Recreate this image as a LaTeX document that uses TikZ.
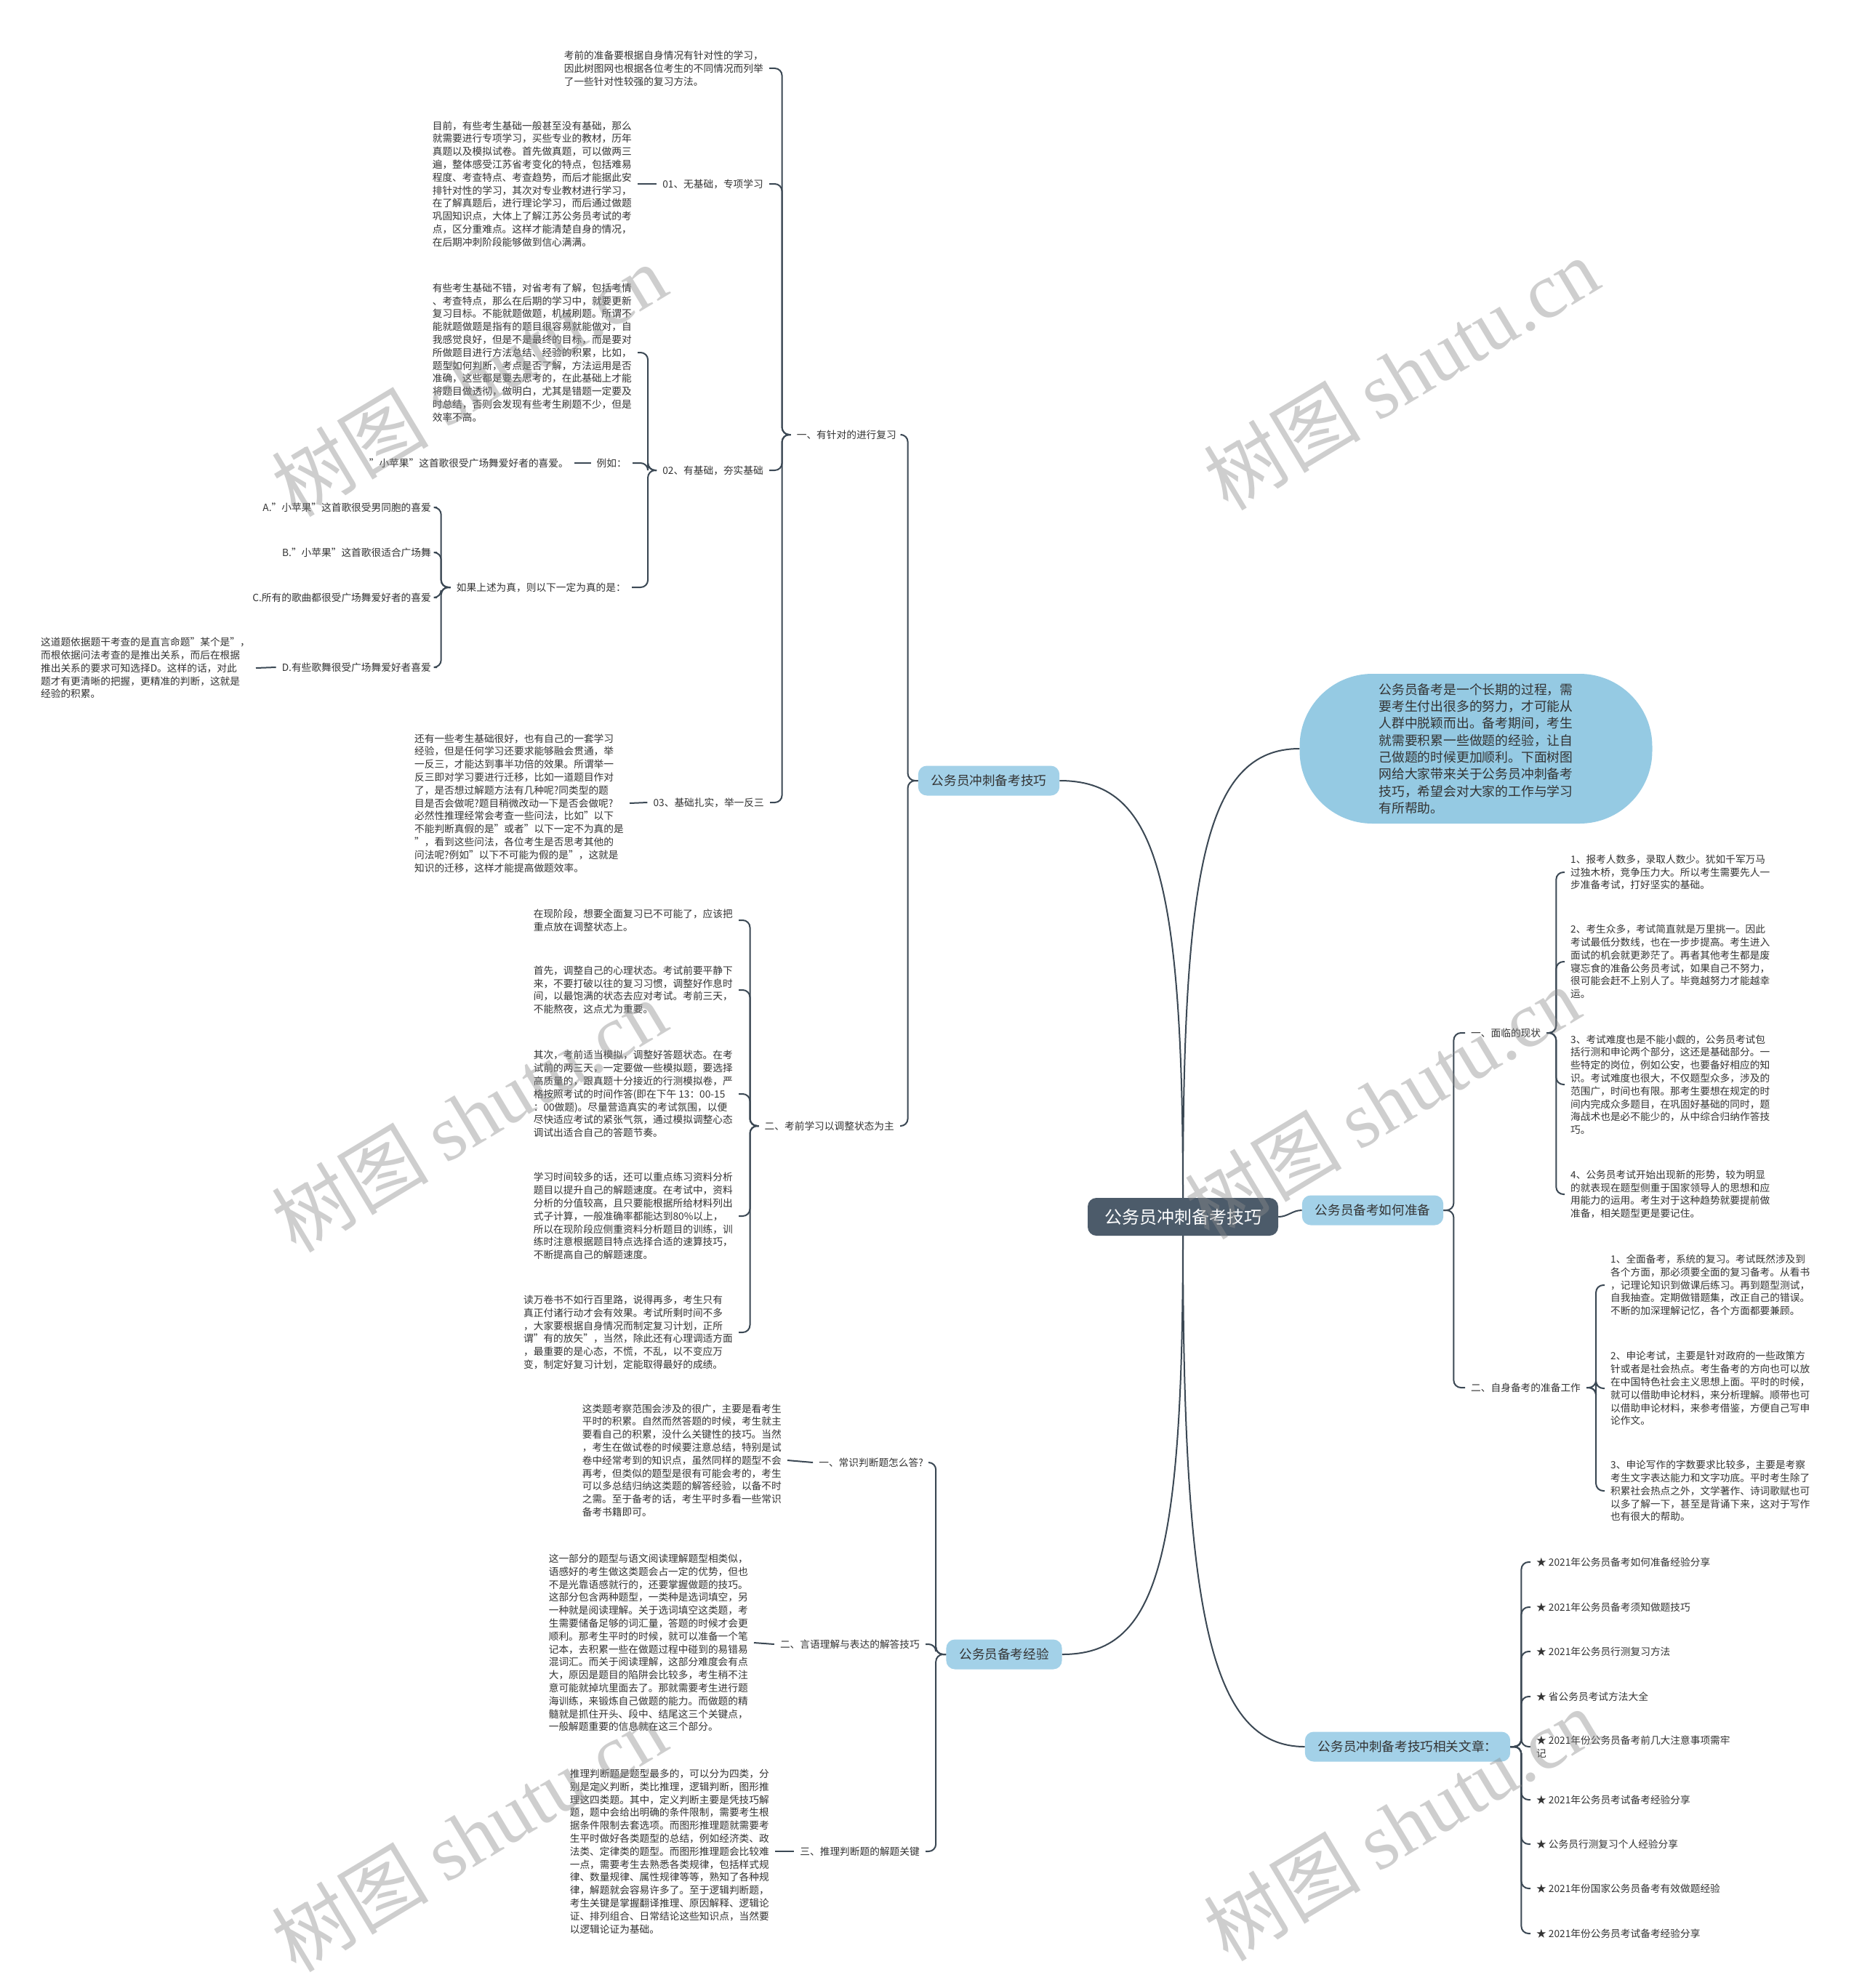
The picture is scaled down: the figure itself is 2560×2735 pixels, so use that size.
\documentclass[tikz,border=0pt]{standalone}
\usepackage{fontspec}
\setmainfont{Noto Sans CJK SC}
\newfontfamily\wmlatin{Liberation Serif}
\usepackage{tikz}
\definecolor{linecol}{RGB}{59,72,84}
\definecolor{rootcol}{RGB}{76,91,106}
\definecolor{topiccol}{RGB}{163,209,232}
\definecolor{introcol}{RGB}{149,202,227}
\definecolor{txtcol}{RGB}{51,51,51}

\begin{document}
\begin{tikzpicture}[x=1pt, y=-1pt,
        root/.style={rectangle, rounded corners=12pt, fill=rootcol, text=white, font=\fontsize{24}{28}\selectfont, minimum height=52pt, inner xsep=23pt},
        topic/.style={rectangle, rounded corners=12pt, fill=topiccol, text=txtcol, font=\fontsize{17.6}{21}\selectfont, minimum height=41pt, inner xsep=18pt},
        intro/.style={rectangle, rounded corners=100pt, fill=introcol, text=txtcol, font=\fontsize{17.8}{23.3}\selectfont, align=left, minimum width=485pt, minimum height=206pt},
        label/.style={text=txtcol, font=\fontsize{13.7}{17.8}\selectfont, inner xsep=8pt, inner ysep=1pt, align=left},
        llabel/.style={label, anchor=east},
        rlabel/.style={label, anchor=west},
        link/.style={draw=linecol, line width=2pt, rounded corners=10pt},
        wmark/.style={rotate=31, text=black!45, opacity=0.42, font=\fontsize{108}{112}\selectfont}
    ]
        \useasboundingbox (0,0) rectangle (2560,2735);
        \fill[white] (0,0) rectangle (2560,2735);

        \node[root] (root) at (1627,1674) {公务员冲刺备考技巧};
        \node[intro] (intro) at (2030,1030) {公务员备考是一个长期的过程，需\\要考生付出很多的努力，才可能从\\人群中脱颖而出。备考期间，考生\\就需要积累一些做题的经验，让自\\己做题的时候更加顺利。下面树图\\网给大家带来关于公务员冲刺备考\\技巧，希望会对大家的工作与学习\\有所帮助。};
        \node[topic] (tips) at (1360,1074) {公务员冲刺备考技巧};
        \node[topic] (prep) at (1888,1665) {公务员备考如何准备};
        \node[topic] (exp) at (1381,2276) {公务员备考经验};
        \node[topic] (rel) at (1936,2403) {公务员冲刺备考技巧相关文章：};

        \node[llabel] (n1) at (1241,598) {一、有针对的进行复习};
        \node[llabel] (p0) at (1058,94) {考前的准备要根据自身情况有针对性的学习，\\因此树图网也根据各位考生的不同情况而列举\\了一些针对性较强的复习方法。};
        \node[llabel] (l01) at (1058,253) {01、无基础，专项学习};
        \node[llabel] (p01) at (877,253) {目前，有些考生基础一般甚至没有基础，那么\\就需要进行专项学习，买些专业的教材，历年\\真题以及模拟试卷。首先做真题，可以做两三\\遍，整体感受江苏省考变化的特点，包括难易\\程度、考查特点、考查趋势，而后才能据此安\\排针对性的学习，其次对专业教材进行学习，\\在了解真题后，进行理论学习，而后通过做题\\巩固知识点，大体上了解江苏公务员考试的考\\点，区分重难点。这样才能清楚自身的情况，\\在后期冲刺阶段能够做到信心满满。};
        \node[llabel] (l02) at (1058,647) {02、有基础，夯实基础};
        \node[llabel] (p02) at (877,485) {有些考生基础不错，对省考有了解，包括考情\\、考查特点，那么在后期的学习中，就要更新\\复习目标。不能就题做题，机械刷题。所谓不\\能就题做题是指有的题目很容易就能做对，自\\我感觉良好，但是不是最终的目标，而是要对\\所做题目进行方法总结、经验的积累，比如，\\题型如何判断，考点是否了解，方法运用是否\\准确，这些都是要去思考的，在此基础上才能\\将题目做透彻，做明白，尤其是错题一定要及\\时总结，否则会发现有些考生刷题不少，但是\\效率不高。};
        \node[llabel] (eg) at (870,637) {例如：};
        \node[llabel] (egt) at (790,637) {"小苹果"这首歌很受广场舞爱好者的喜爱。};
        \node[llabel] (q) at (869,808) {如果上述为真，则以下一定为真的是：};
        \node[llabel] (optA) at (601,698) {A."小苹果"这首歌很受男同胞的喜爱};
        \node[llabel] (optB) at (601,760) {B."小苹果"这首歌很适合广场舞};
        \node[llabel] (optC) at (601,822) {C.所有的歌曲都很受广场舞爱好者的喜爱};
        \node[llabel] (optD) at (601,918) {D.有些歌舞很受广场舞爱好者喜爱};
        \node[llabel] (pD) at (352,919) {这道题依据题干考查的是直言命题"某个是"，\\而根依据问法考查的是推出关系，而后在根据\\推出关系的要求可知选择D。这样的话，对此\\题才有更清晰的把握，更精准的判断，这就是\\经验的积累。};
        \node[llabel] (l03) at (1059,1104) {03、基础扎实，举一反三};
        \node[llabel] (p03) at (866,1105) {还有一些考生基础很好，也有自己的一套学习\\经验，但是任何学习还要求能够融会贯通，举\\一反三，才能达到事半功倍的效果。所谓举一\\反三即对学习要进行迁移，比如一道题目作对\\了，是否想过解题方法有几种呢?同类型的题\\目是否会做呢?题目稍微改动一下是否会做呢?\\必然性推理经常会考查一些问法，比如"以下\\不能判断真假的是"或者"以下一定不为真的是\\"，看到这些问法，各位考生是否思考其他的\\问法呢?例如"以下不可能为假的是"，这就是\\知识的迁移，这样才能提高做题效率。};

        \node[llabel] (n2) at (1238,1549) {二、考前学习以调整状态为主};
        \node[llabel] (pa) at (1016,1266) {在现阶段，想要全面复习已不可能了，应该把\\重点放在调整状态上。};
        \node[llabel] (pb) at (1016,1362) {首先，调整自己的心理状态。考试前要平静下\\来，不要打破以往的复习习惯，调整好作息时\\间，以最饱满的状态去应对考试。考前三天，\\不能熬夜，这点尤为重要。};
        \node[llabel] (pc) at (1016,1505) {其次，考前适当模拟，调整好答题状态。在考\\试前的两三天，一定要做一些模拟题，要选择\\高质量的，跟真题十分接近的行测模拟卷，严\\格按照考试的时间作答(即在下午 13：00-15\\：00做题)。尽量营造真实的考试氛围，以便\\尽快适应考试的紧张气氛，通过模拟调整心态\\调试出适合自己的答题节奏。};
        \node[llabel] (pd) at (1016,1673) {学习时间较多的话，还可以重点练习资料分析\\题目以提升自己的解题速度。在考试中，资料\\分析的分值较高，且只要能根据所给材料列出\\式子计算，一般准确率都能达到80\%以上，\\所以在现阶段应侧重资料分析题目的训练，训\\练时注意根据题目特点选择合适的速算技巧，\\不断提高自己的解题速度。};
        \node[llabel] (pe) at (1016,1833) {读万卷书不如行百里路，说得再多，考生只有\\真正付诸行动才会有效果。考试所剩时间不多\\，大家要根据自身情况而制定复习计划，正所\\谓"有的放矢"，当然，除此还有心理调适方面\\，最重要的是心态，不慌，不乱，以不变应万\\变，制定好复习计划，定能取得最好的成绩。};

        \node[llabel] (m1) at (1278,2012) {一、常识判断题怎么答?};
        \node[llabel] (pm1) at (1083,2009) {这类题考察范围会涉及的很广，主要是看考生\\平时的积累。自然而然答题的时候，考生就主\\要看自己的积累，没什么关键性的技巧。当然\\，考生在做试卷的时候要注意总结，特别是试\\卷中经常考到的知识点，虽然同样的题型不会\\再考，但类似的题型是很有可能会考的，考生\\可以多总结归纳这类题的解答经验，以备不时\\之需。至于备考的话，考生平时多看一些常识\\备考书籍即可。};
        \node[llabel] (m2) at (1273,2262) {二、言语理解与表达的解答技巧};
        \node[llabel] (pm2) at (1037,2260) {这一部分的题型与语文阅读理解题型相类似，\\语感好的考生做这类题会占一定的优势，但也\\不是光靠语感就行的，还要掌握做题的技巧。\\这部分包含两种题型，一类种是选词填空，另\\一种就是阅读理解。关于选词填空这类题，考\\生需要储备足够的词汇量，答题的时候才会更\\顺利。那考生平时的时候，就可以准备一个笔\\记本，去积累一些在做题过程中碰到的易错易\\混词汇。而关于阅读理解，这部分难度会有点\\大，原因是题目的陷阱会比较多，考生稍不注\\意可能就掉坑里面去了。那就需要考生进行题\\海训练，来锻炼自己做题的能力。而做题的精\\髓就是抓住开头、段中、结尾这三个关键点，\\一般解题重要的信息就在这三个部分。};
        \node[llabel] (m3) at (1273,2547) {三、推理判断题的解题关键};
        \node[llabel] (pm3) at (1066,2547) {推理判断题是题型最多的，可以分为四类，分\\别是定义判断，类比推理，逻辑判断，图形推\\理这四类题。其中，定义判断主要是凭技巧解\\题，题中会给出明确的条件限制，需要考生根\\据条件限制去套选项。而图形推理题就需要考\\生平时做好各类题型的总结，例如经济类、政\\法类、定律类的题型。而图形推理题会比较难\\一点，需要考生去熟悉各类规律，包括样式规\\律、数量规律、属性规律等等，熟知了各种规\\律，解题就会容易许多了。至于逻辑判断题，\\考生关键是掌握翻译推理、原因解释、逻辑论\\证、排列组合、日常结论这些知识点，当然要\\以逻辑论证为基础。};

        \node[rlabel] (r1) at (2015,1421) {一、面临的现状};
        \node[rlabel] (i1) at (2152,1200) {1、报考人数多，录取人数少。犹如千军万马\\过独木桥，竞争压力大。所以考生需要先人一\\步准备考试，打好坚实的基础。};
        \node[rlabel] (i2) at (2152,1323) {2、考生众多，考试简直就是万里挑一。因此\\考试最低分数线，也在一步步提高。考生进入\\面试的机会就更渺茫了。再者其他考生都是废\\寝忘食的准备公务员考试，如果自己不努力，\\很可能会赶不上别人了。毕竟越努力才能越幸\\运。};
        \node[rlabel] (i3) at (2152,1492) {3、考试难度也是不能小觑的，公务员考试包\\括行测和申论两个部分，这还是基础部分。一\\些特定的岗位，例如公安，也要备好相应的知\\识。考试难度也很大，不仅题型众多，涉及的\\范围广，时间也有限。那考生要想在规定的时\\间内完成众多题目，在巩固好基础的同时，题\\海战术也是必不能少的，从中综合归纳作答技\\巧。};
        \node[rlabel] (i4) at (2152,1643) {4、公务员考试开始出现新的形势，较为明显\\的就表现在题型侧重于国家领导人的思想和应\\用能力的运用。考生对于这种趋势就要提前做\\准备，相关题型更是要记住。};
        \node[rlabel] (r2) at (2015,1909) {二、自身备考的准备工作};
        \node[rlabel] (j1) at (2207,1768) {1、全面备考，系统的复习。考试既然涉及到\\各个方面，那必须要全面的复习备考。从看书\\，记理论知识到做课后练习。再到题型测试，\\自我抽查。定期做错题集，改正自己的错误。\\不断的加深理解记忆，各个方面都要兼顾。};
        \node[rlabel] (j2) at (2207,1910) {2、申论考试，主要是针对政府的一些政策方\\针或者是社会热点。考生备考的方向也可以放\\在中国特色社会主义思想上面。平时的时候，\\就可以借助申论材料，来分析理解。顺带也可\\以借助申论材料，来参考借鉴，方便自己写申\\论作文。};
        \node[rlabel] (j3) at (2207,2051) {3、申论写作的字数要求比较多，主要是考察\\考生文字表达能力和文字功底。平时考生除了\\积累社会热点之外，文学著作、诗词歌赋也可\\以多了解一下，甚至是背诵下来，这对于写作\\也有很大的帮助。};

        \node[rlabel] (a1) at (2105,2149) {★ 2021年公务员备考如何准备经验分享};
        \node[rlabel] (a2) at (2105,2211) {★ 2021年公务员备考须知做题技巧};
        \node[rlabel] (a3) at (2105,2272) {★ 2021年公务员行测复习方法};
        \node[rlabel] (a4) at (2105,2334) {★ 省公务员考试方法大全};
        \node[rlabel] (a5) at (2105,2403) {★ 2021年份公务员备考前几大注意事项需牢\\记};
        \node[rlabel] (a6) at (2105,2476) {★ 2021年公务员考试备考经验分享};
        \node[rlabel] (a7) at (2105,2537) {★ 公务员行测复习个人经验分享};
        \node[rlabel] (a8) at (2105,2598) {★ 2021年份国家公务员备考有效做题经验};
        \node[rlabel] (a9) at (2105,2660) {★ 2021年份公务员考试备考经验分享};

        \draw[link] (root.north) .. controls +(0,-450) and +(130,0) .. (tips.east);
        \draw[link] (root.north) .. controls +(0,-450) and +(-130,0) .. (intro.west);
        \draw[link] (root.east) to[out=0,in=180] (prep.west);
        \draw[link] (root.south) .. controls +(0,450) and +(130,0) .. (exp.east);
        \draw[link] (root.south) .. controls +(0,520) and +(-130,0) .. (rel.west);

        \draw[link] (tips.west) -- ++(-14,0) |- (n1.east);
        \draw[link] (tips.west) -- ++(-14,0) |- (n2.east);
        \draw[link] (n1.west) -- ++(-12,0) |- (p0.east);
        \draw[link] (n1.west) -- ++(-12,0) |- (l01.east);
        \draw[link] (n1.west) -- ++(-12,0) |- (l02.east);
        \draw[link] (n1.west) -- ++(-12,0) |- (l03.east);
        \draw[link] (l01.west) -- (p01.east);
        \draw[link] (l02.west) -- ++(-12,0) |- (p02.east);
        \draw[link] (l02.west) -- ++(-12,0) |- (eg.east);
        \draw[link] (l02.west) -- ++(-12,0) |- (q.east);
        \draw[link] (eg.west) -- (egt.east);
        \draw[link] (q.west) -- ++(-13,0) |- (optA.east);
        \draw[link] (q.west) -- ++(-13,0) |- (optB.east);
        \draw[link] (q.west) -- ++(-13,0) |- (optC.east);
        \draw[link] (q.west) -- ++(-13,0) |- (optD.east);
        \draw[link] (optD.west) -- (pD.east);
        \draw[link] (l03.west) -- (p03.east);
        \draw[link] (n2.west) -- ++(-12,0) |- (pa.east);
        \draw[link] (n2.west) -- ++(-12,0) |- (pb.east);
        \draw[link] (n2.west) -- ++(-12,0) |- (pc.east);
        \draw[link] (n2.west) -- ++(-12,0) |- (pd.east);
        \draw[link] (n2.west) -- ++(-12,0) |- (pe.east);

        \draw[link] (exp.west) -- ++(-14,0) |- (m1.east);
        \draw[link] (exp.west) -- ++(-14,0) |- (m2.east);
        \draw[link] (exp.west) -- ++(-14,0) |- (m3.east);
        \draw[link] (m1.west) -- (pm1.east);
        \draw[link] (m2.west) -- (pm2.east);
        \draw[link] (m3.west) -- (pm3.east);

        \draw[link] (prep.east) -- ++(14,0) |- (r1.west);
        \draw[link] (prep.east) -- ++(14,0) |- (r2.west);
        \draw[link] (r1.east) -- ++(13,0) |- (i1.west);
        \draw[link] (r1.east) -- ++(13,0) |- (i2.west);
        \draw[link] (r1.east) -- ++(13,0) |- (i3.west);
        \draw[link] (r1.east) -- ++(13,0) |- (i4.west);
        \draw[link] (r2.east) -- ++(13,0) |- (j1.west);
        \draw[link] (r2.east) -- ++(13,0) |- (j2.west);
        \draw[link] (r2.east) -- ++(13,0) |- (j3.west);

        \draw[link] (rel.east) -- ++(15,0) |- (a1.west);
        \draw[link] (rel.east) -- ++(15,0) |- (a2.west);
        \draw[link] (rel.east) -- ++(15,0) |- (a3.west);
        \draw[link] (rel.east) -- ++(15,0) |- (a4.west);
        \draw[link] (rel.east) -- ++(15,0) |- (a5.west);
        \draw[link] (rel.east) -- ++(15,0) |- (a6.west);
        \draw[link] (rel.east) -- ++(15,0) |- (a7.west);
        \draw[link] (rel.east) -- ++(15,0) |- (a8.west);
        \draw[link] (rel.east) -- ++(15,0) |- (a9.west);

        \node[wmark] (w1) at (645,523) {树图 {\wmlatin shutu.cn}};
        \node[wmark] (w2) at (1927,514) {树图 {\wmlatin shutu.cn}};
        \node[wmark] (w3) at (645,1535) {树图 {\wmlatin shutu.cn}};
        \node[wmark] (w4) at (1901,1517) {树图 {\wmlatin shutu.cn}};
        \node[wmark] (w5) at (645,2525) {树图 {\wmlatin shutu.cn}};
        \node[wmark] (w6) at (1927,2510) {树图 {\wmlatin shutu.cn}};
    \end{tikzpicture}
\end{document}
